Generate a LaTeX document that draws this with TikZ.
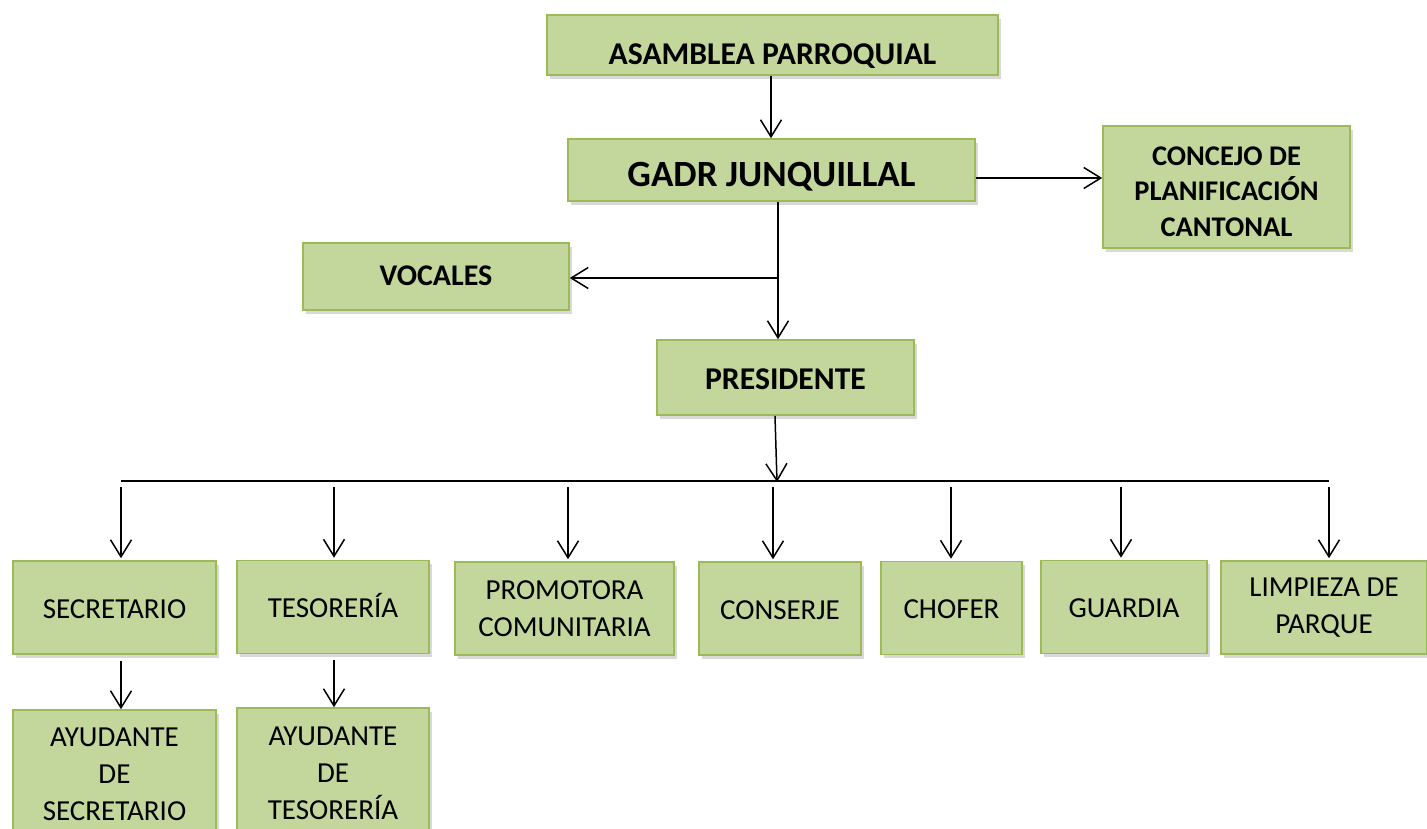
\documentclass[tikz,border=0pt]{standalone}
\usepackage{fontspec}
\setmainfont{Carlito}
\usepackage{tikz}
\usetikzlibrary{arrows.meta, positioning, shadows}
\definecolor{cajaverde}{HTML}{C3D69B}
\definecolor{bordeverde}{HTML}{9BBB59}

\begin{document}
\begin{tikzpicture}[
  x=1pt, y=-1pt,
  cargo/.style={rectangle, draw=bordeverde, line width=1.6pt, fill=cajaverde,
                drop shadow={shadow xshift=2.5pt, shadow yshift=-3.5pt, opacity=0.3},
                align=center, inner sep=0pt},
  titulo/.style={cargo, font=\bfseries\fontsize{31.7}{36}\selectfont},
  puesto/.style={cargo, minimum height=93pt, font=\fontsize{29}{37}\selectfont},
  unalinea/.style={puesto, text height=21pt, text depth=0pt},
  flecha/.style={-{Straight Barb[length=17pt, width=21pt, line width=1.5pt]}, line width=1.5pt},
  linea/.style={line width=1.5pt},
]
  \useasboundingbox (0,0) rectangle (1427,828);

  \node[titulo, minimum width=451pt, minimum height=60pt, text height=38pt, text depth=0pt] (asamblea) at (772.5,45) {ASAMBLEA PARROQUIAL};
  \node[titulo, minimum width=407pt, minimum height=62pt, text height=32pt, text depth=0pt,
        font=\bfseries\fontsize{37}{40}\selectfont] (gadr) at (771.5,170) {GADR JUNQUILLAL};
  \node[titulo, minimum width=247pt, minimum height=122pt,
        font=\bfseries\fontsize{28.5}{35.5}\selectfont] (concejo) at (1226.5,187) {\rule{0pt}{28pt}CONCEJO DE\\PLANIFICACIÓN\\CANTONAL};
  \node[titulo, minimum width=266pt, minimum height=67pt, text height=17pt, text depth=0pt,
        font=\bfseries\fontsize{30}{36}\selectfont] (vocales) at (436,276.5) {VOCALES};
  \node[titulo, minimum width=257pt, minimum height=75pt, text height=23pt, text depth=0pt] (presidente) at (785.5,377.5) {PRESIDENTE};

  \node[unalinea, minimum width=203pt] (secretario) at (114.5,607.5) {SECRETARIO};
  \node[unalinea, minimum width=192pt] (tesoreria) at (333,607) {TESORERÍA};
  \node[puesto, minimum width=219pt] (promotora) at (564.5,608.5) {PROMOTORA\\COMUNITARIA};
  \node[unalinea, minimum width=162pt] (conserje) at (780,608.5) {CONSERJE};
  \node[unalinea, minimum width=141pt] (chofer) at (951.5,608) {CHOFER};
  \node[unalinea, minimum width=166pt] (guardia) at (1124,607) {GUARDIA};
  \node[puesto, minimum width=206pt] (limpieza) at (1324,607.5) {LIMPIEZA DE\\PARQUE};

  \node[puesto, minimum width=203pt, minimum height=129pt] (aysecretario) at (114.5,774.5) {AYUDANTE\\DE\\SECRETARIO};
  \node[puesto, minimum width=192pt, minimum height=130pt] (aytesoreria) at (333,773) {AYUDANTE\\DE\\TESORERÍA};

  \coordinate (rama) at (778,278);
  \coordinate (bus-izq) at (121,481);
  \coordinate (bus-der) at (1329,481);

  \draw[flecha] (asamblea.south -| 771,0) -- (gadr.north -| 771,0);
  \draw[flecha] (gadr.east |- 0,178) -- (concejo.west |- 0,178);
  \draw[linea] (gadr.south -| rama) -- (rama);
  \draw[flecha] (rama) -- (vocales.east |- rama);
  \draw[flecha] (rama) -- (presidente.north -| rama);
  \draw[flecha] (presidente.south -| 775,0) -- (777,482);
  \draw[linea] (bus-izq) -- (bus-der);

  \foreach \destino/\px in {secretario/121, tesoreria/334, promotora/568, conserje/773,
                            chofer/951, guardia/1121, limpieza/1329}
    \draw[flecha] (\px,487) -- ([yshift=2pt]\destino.north -| \px,0);

  \draw[flecha] (secretario.south -| 121,0) ++(0,6) -- (aysecretario.north -| 121,0);
  \draw[flecha] (tesoreria.south -| 334,0) ++(0,6) -- (aytesoreria.north -| 334,0);
\end{tikzpicture}
\end{document}
